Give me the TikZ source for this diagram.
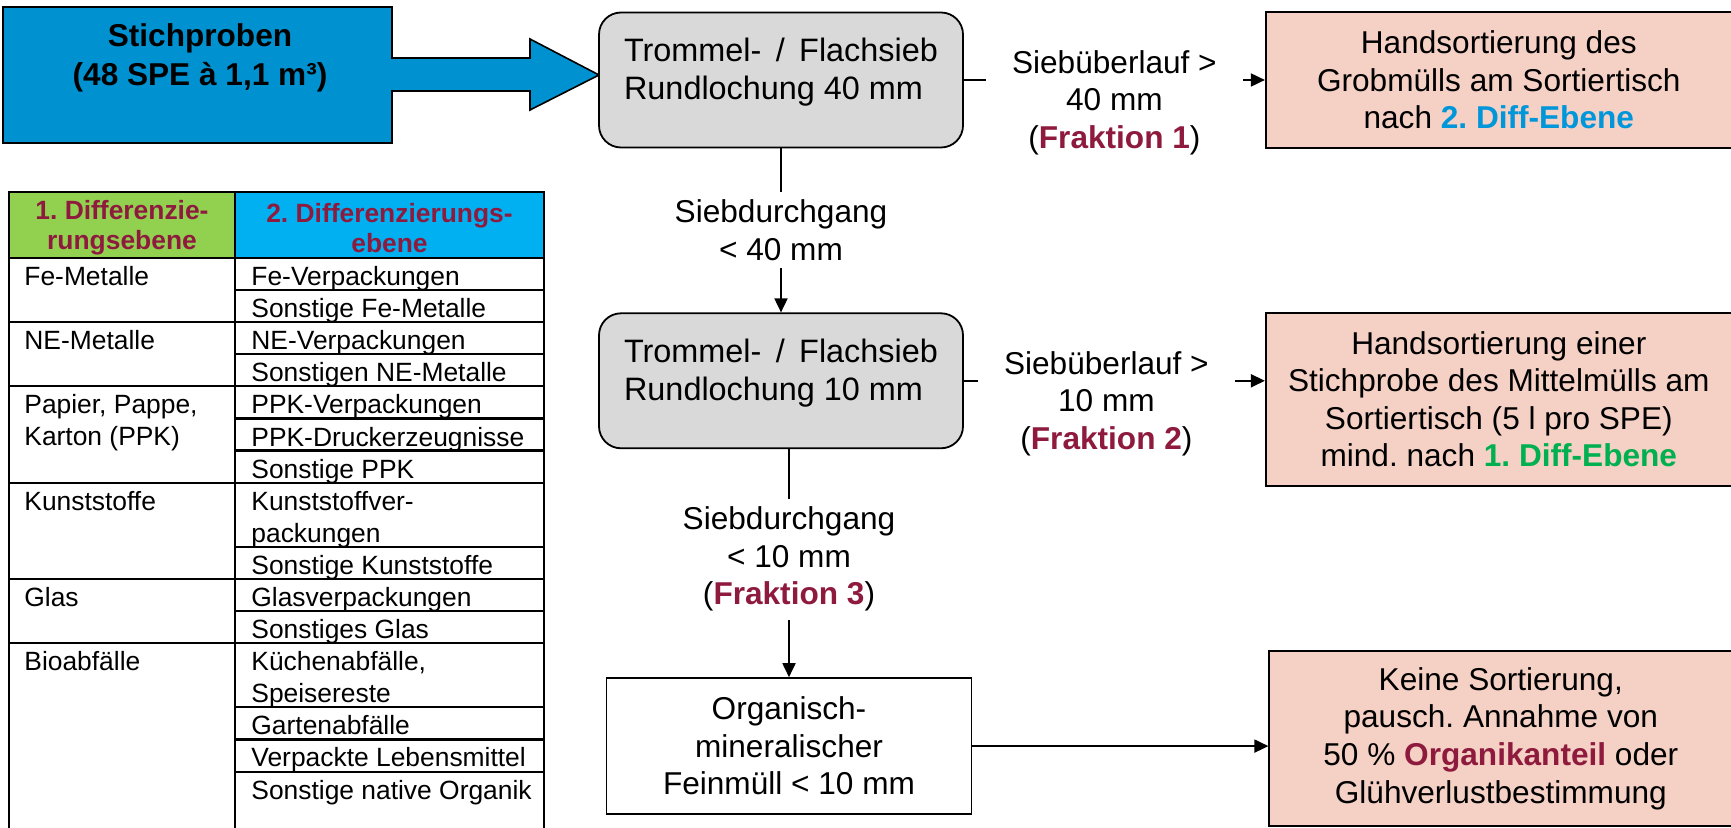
\documentclass[tikz,border=0pt]{standalone}
\usepackage{fontspec}
\setmainfont{Liberation Sans}
\usetikzlibrary{positioning,arrows.meta}
\frenchspacing

\definecolor{stichblau}{HTML}{0092D0}
\definecolor{siebgrau}{HTML}{D9D9D9}
\definecolor{handrosa}{HTML}{F5D0C4}
\definecolor{kopfgruen}{HTML}{92D050}
\definecolor{kopfblau}{HTML}{00B0F0}
\definecolor{weinrot}{HTML}{8E1B3E}
\definecolor{diffblau}{HTML}{0096DA}
\definecolor{diffgruen}{HTML}{00B050}

\begin{document}
\begin{tikzpicture}[x=0.5pt, y=-0.5pt,
    txt/.style={font=\fontsize{15.8pt}{18.8pt}\selectfont, align=center},
    siebbox/.style={font=\fontsize{16.2pt}{18.8pt}\selectfont, align=left, rectangle, draw, line width=0.9pt, fill=siebgrau, rounded corners=11pt, minimum width=182pt, minimum height=67.5pt},
    handbox/.style={txt, rectangle, draw, line width=0.9pt, fill=handrosa, minimum width=233pt},
    flowlbl/.style={txt, fill=white, inner xsep=13pt, inner ysep=4pt},
    flow/.style={line width=0.9pt, -{Triangle[length=7pt,width=6.5pt]}},
    tab/.style={font=\fontsize{13.2pt}{16pt}\selectfont, anchor=north west, inner sep=0pt, align=left},
    tabkopf/.style={font=\fontsize{13.2pt}{15pt}\selectfont\bfseries, text=weinrot, align=center},
    tabline/.style={line width=1.1pt}]

    \useasboundingbox (0,0) rectangle (1731,828);

    % Stichproben
    \draw[fill=stichblau, line width=0.8pt] (3,7) -- (392,7) -- (392,58) -- (530,58) -- (530,39) -- (599,75)
        -- (530,110) -- (530,91) -- (392,91) -- (392,143) -- (3,143) -- cycle;
    \node[font=\fontsize{15.8pt}{19.5pt}\selectfont\bfseries, align=center] (stich) at (200,58) {Stichproben\\(48 SPE à 1,1 m³)};

    % Siebe (text sits in the upper part of the box)
    \node[siebbox] (sieb1) at (781,80) {Trommel- \,/ \,Flachsieb\\Rundlochung 40 mm\\[-7.5pt]\mbox{}};
    \node[siebbox, below=82pt of sieb1] (sieb2) {Trommel- \,/ \,Flachsieb\\Rundlochung 10 mm\\[-7.5pt]\mbox{}};
    \node[txt, rectangle, draw, line width=0.9pt, minimum width=182.5pt, minimum height=68pt, below=114pt of sieb2, xshift=4pt] (fein) {Organisch-\\mineralischer\\Feinmüll < 10 mm};

    % Handsortierung
    \node[handbox, minimum height=68pt, right=150.5pt of sieb1] (hand1) {Handsortierung des\\Grobmülls am Sortiertisch\\nach \textcolor{diffblau}{\textbf{2. Diff-Ebene}}};
    \node[handbox, minimum height=86.5pt, right=150.5pt of sieb2, yshift=-9.25pt] (hand2) {Handsortierung einer\\Stichprobe des Mittelmülls am\\Sortiertisch (5 l pro SPE)\\mind. nach \textcolor{diffgruen}{\textbf{1. Diff-Ebene}}};
    \node[handbox, minimum width=231.5pt, minimum height=87.5pt, right=148pt of fein, yshift=3.75pt] (hand3) {Keine Sortierung,\\pausch. Annahme von\\50 \% \textcolor{weinrot}{\textbf{Organikanteil}} oder\\Glühverlustbestimmung};

    % Arrows
    \draw[flow] (sieb1) -- node[flowlbl, yshift=-11.25pt] {Siebüberlauf >\\40 mm\\(\textcolor{weinrot}{\textbf{Fraktion 1}})} (hand1);
    \draw[flow] (sieb2.east) -- node[flowlbl, xshift=-4pt, yshift=-11.5pt] {Siebüberlauf >\\10 mm\\(\textcolor{weinrot}{\textbf{Fraktion 2}})} (sieb2.east -| hand2.west);
    \draw[flow] (sieb1) -- node[flowlbl, yshift=0.2pt] {Siebdurchgang\\< 40 mm} (sieb2);
    \draw[flow] (sieb2.south -| fein.north) -- node[flowlbl, yshift=2pt] {Siebdurchgang\\< 10 mm\\(\textcolor{weinrot}{\textbf{Fraktion 3}})} (fein.north);
    \draw[flow] (fein.east) -- (fein.east -| hand3.west);

    % Tabelle der Differenzierungsebenen
    \fill[kopfgruen] (9,192) rectangle (235,258);
    \fill[kopfblau] (235,192) rectangle (544,258);
    \node[tabkopf] (kopf1) at (122,228) {1. Differenzie-\\rungsebene};
    \node[tabkopf] (kopf2) at (389.5,228) {2. Differenzierungs-\\ebene};

    \draw[tabline] (9,828) -- (9,192) -- (544,192) -- (544,828);
    \draw[tabline] (235,192) -- (235,828);
    \draw[tabline] (9,258) -- (544,258) (9,322.2) -- (544,322.2) (9,386.4) -- (544,386.4)
        (9,482.7) -- (544,482.7) (9,578.9) -- (544,578.9) (9,643.1) -- (544,643.1);
    \draw[tabline] (235,290.1) -- (544,290.1) (235,354.3) -- (544,354.3) (235,418.5) -- (544,418.5)
        (235,450.6) -- (544,450.6) (235,546.8) -- (544,546.8) (235,611) -- (544,611)
        (235,707.3) -- (544,707.3) (235,739.4) -- (544,739.4) (235,771.6) -- (544,771.6);

    % 1. Ebene
    \node[tab] (fe) at (24,266) {Fe-Metalle};
    \node[tab] (ne) at (24,330.2) {NE-Metalle};
    \node[tab] (ppk) at (24,394.4) {Papier, Pappe,\\Karton (PPK)};
    \node[tab] (kunst) at (24,490.7) {Kunststoffe};
    \node[tab] (glas) at (24,586.9) {Glas};
    \node[tab] (bio) at (24,651.1) {Bioabfälle};

    % 2. Ebene
    \node[tab] (fe1) at (251,266) {Fe-Verpackungen};
    \node[tab] (fe2) at (251,298.1) {Sonstige Fe-Metalle};
    \node[tab] (ne1) at (251,330.2) {NE-Verpackungen};
    \node[tab] (ne2) at (251,362.3) {Sonstigen NE-Metalle};
    \node[tab] (ppk1) at (251,394.4) {PPK-Verpackungen};
    \node[tab] (ppk2) at (251,426.5) {PPK-Druckerzeugnisse};
    \node[tab] (ppk3) at (251,458.6) {Sonstige PPK};
    \node[tab] (kunst1) at (251,490.7) {Kunststoffver-\\packungen};
    \node[tab] (kunst2) at (251,554.8) {Sonstige Kunststoffe};
    \node[tab] (glas1) at (251,586.9) {Glasverpackungen};
    \node[tab] (glas2) at (251,619) {Sonstiges Glas};
    \node[tab] (bio1) at (251,651.1) {Küchenabfälle,\\Speisereste};
    \node[tab] (bio2) at (251,715.3) {Gartenabfälle};
    \node[tab] (bio3) at (251,747.4) {Verpackte Lebensmittel};
    \node[tab] (bio4) at (251,779.6) {Sonstige native Organik};
\end{tikzpicture}
\end{document}
